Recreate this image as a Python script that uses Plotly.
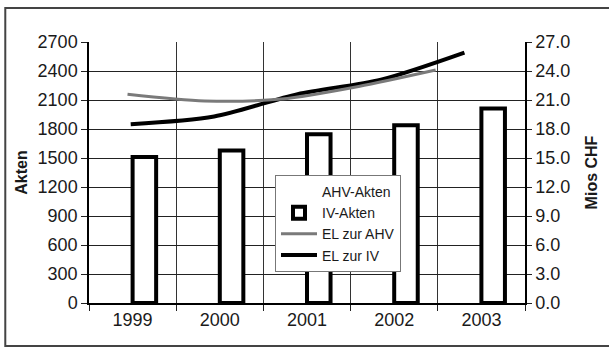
import plotly.graph_objects as go

# ---- data ----
years = ["1999", "2000", "2001", "2002", "2003"]
ahv_akten = [0, 0, 0, 0, 0]
iv_akten = [1510, 1578, 1745, 1838, 2012]
el_zur_ahv = [21.6, 20.9, 21.1, 22.4, 24.1]
el_zur_iv = [18.5, 19.3, 21.6, 23.1, 25.9]
left_ticks = [0, 300, 600, 900, 1200, 1500, 1800, 2100, 2400, 2700]
right_ticks = [0, 3, 6, 9, 12, 15, 18, 21, 24, 27]

FONT = "Liberation Sans, Arial, Helvetica, sans-serif"
TXT = "#1a1a1a"

fig = go.Figure()

fig.add_trace(go.Bar(
    x=years, y=ahv_akten, name="AHV-Akten",
    marker=dict(color="rgba(0,0,0,0)", line=dict(width=0)),
    xaxis="x", yaxis="y",
))
fig.add_trace(go.Bar(
    x=years, y=iv_akten, name="IV-Akten",
    marker=dict(color="white", line=dict(color="black", width=4)),
    xaxis="x", yaxis="y",
))
fig.add_trace(go.Scatter(
    x=years, y=el_zur_ahv, name="EL zur AHV", mode="lines",
    line=dict(color="#7a7a7a", width=3, shape="spline", smoothing=0.8),
    xaxis="x3", yaxis="y2",
))
fig.add_trace(go.Scatter(
    x=years, y=el_zur_iv, name="EL zur IV", mode="lines",
    line=dict(color="black", width=4, shape="spline", smoothing=0.8),
    xaxis="x2", yaxis="y2",
))

tickfont = dict(family=FONT, size=18, color=TXT)

fig.update_layout(
    width=609, height=349,
    margin=dict(l=89, r=84, t=42, b=46),
    paper_bgcolor="white", plot_bgcolor="white",
    barmode="group", bargap=0.46, bargroupgap=0,
    font=dict(family=FONT, color=TXT),
    xaxis=dict(
        type="category", categoryorder="array", categoryarray=years,
        tickson="boundaries", ticks="outside", ticklen=6, tickcolor="#222",
        showgrid=True, gridcolor="#333", gridwidth=1,
        showline=True, linecolor="black", linewidth=1.5, mirror=False,
        tickfont=tickfont, automargin=False,
    ),
    xaxis2=dict(
        type="category", categoryorder="array", categoryarray=years,
        overlaying="x", range=[-0.5, 4.726], visible=False,
    ),
    xaxis3=dict(
        type="category", categoryorder="array", categoryarray=years,
        overlaying="x", range=[-0.5, 5.16], visible=False,
    ),
    yaxis=dict(
        range=[0, 2700], tickvals=left_ticks, ticks="outside", ticklen=6,
        tickcolor="#222", showgrid=True, gridcolor="#222", gridwidth=1,
        showline=True, linecolor="black", linewidth=1.5, zeroline=False,
        tickfont=tickfont, automargin=False,
        title=dict(text="<b>Akten</b>", font=dict(family=FONT, size=16, color=TXT), standoff=6),
    ),
    yaxis2=dict(
        range=[0, 27], tickvals=right_ticks, tickformat=".1f", side="right",
        overlaying="y", ticks="outside", ticklen=5, tickcolor="#222",
        showgrid=False, showline=True, linecolor="black", linewidth=1.5,
        zeroline=False, tickfont=tickfont, automargin=False,
        title=dict(text="<b>Mios CHF</b>", font=dict(family=FONT, size=16, color=TXT), standoff=16),
    ),
    legend=dict(
        x=0.4266, y=0.491, xanchor="left", yanchor="top",
        bgcolor="white", bordercolor="#777", borderwidth=1,
        font=dict(family=FONT, size=14, color=TXT),
        traceorder="normal", tracegroupgap=0, itemwidth=36,
    ),
    showlegend=True,
    shapes=[dict(
        type="rect", xref="paper", yref="paper",
        x0=-0.192, x1=1.2, y0=-0.165, y1=1.13,
        line=dict(color="#444", width=2), fillcolor="rgba(0,0,0,0)", layer="below",
    )],
)

fig.write_html("out.html", config={"displayModeBar": False},
               post_script="document.body.style.margin='0px';")
